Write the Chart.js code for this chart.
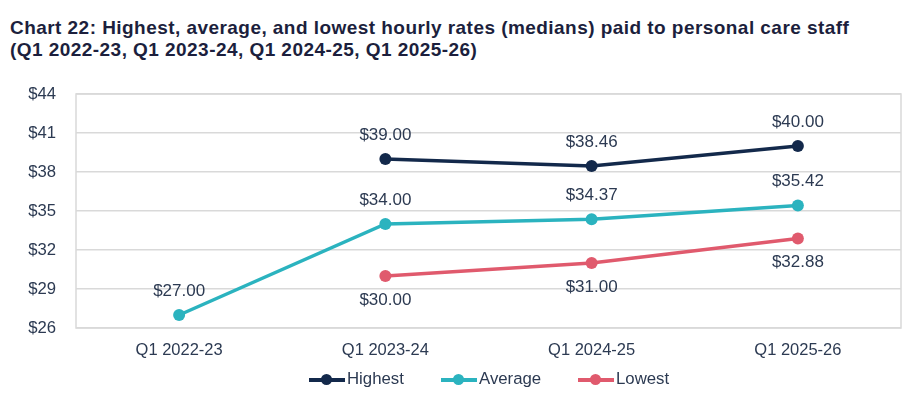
<!DOCTYPE html>
<html>
<head>
<meta charset="utf-8">
<script src="https://cdn.jsdelivr.net/npm/chart.js@4/dist/chart.umd.min.js"></script>
<style>
  html, body { margin: 0; padding: 0; background: #fff; }
  #wrap { position: relative; width: 916px; height: 404px; overflow: hidden; }
  #title {
    position: absolute; left: 10px; top: 17px;
    font-family: "Liberation Sans", Arial, sans-serif; font-weight: bold;
    font-size: 19px; line-height: 22px; letter-spacing: 0.45px; color: #1c1f3d;
    white-space: nowrap;
  }
  #chart { position: absolute; left: 0; top: 0; }
  #legend {
    position: absolute; top: 369px; left: 0; width: 916px; height: 20px;
    font-family: "Liberation Sans", Arial, sans-serif; font-size: 16.8px; color: #2c3a52;
  }
  .item { position: absolute; top: 0; height: 20px; line-height: 20px; }
  .mark { position: absolute; top: 9px; width: 36px; height: 3.5px; }
  .mark i { position: absolute; left: 12px; top: -4px; width: 11px; height: 11px; border-radius: 50%; }
  .item span { position: absolute; left: 38px; white-space: nowrap; }
</style>
</head>
<body>
<div id="wrap">
  <div id="title">Chart 22: Highest, average, and lowest hourly rates (medians) paid to personal care staff<br>(Q1 2022-23, Q1 2023-24, Q1 2024-25, Q1 2025-26)</div>
  <canvas id="chart" width="916" height="404"></canvas>
  <div id="legend"></div>
</div>
<script>
const categories = ["Q1 2022-23", "Q1 2023-24", "Q1 2024-25", "Q1 2025-26"];
const highest = [null, 39.00, 38.46, 40.00];
const average = [27.00, 34.00, 34.37, 35.42];
const lowest = [null, 30.00, 31.00, 32.88];
const seriesNames = ["Highest", "Average", "Lowest"];
const seriesColors = ["#13294b", "#2bb3bf", "#e05a6d"];
const labelSide = ["above", "above", "below"];

const textColor = "#2c3a52";
const fontFamily = "'Liberation Sans', Arial, sans-serif";

// ---------------- legend (html) ----------------
const legendDiv = document.getElementById("legend");
const legendX = [309, 441, 578];
seriesNames.forEach((name, i) => {
    const item = document.createElement("div");
    item.className = "item";
    item.style.left = legendX[i] + "px";
    item.innerHTML = `<div class="mark" style="background:${seriesColors[i]}"><i style="background:${seriesColors[i]}"></i></div><span>${name}</span>`;
    legendDiv.appendChild(item);
});

// ---------------- plugins ----------------
const frame = {
    id: "frame",
    beforeDatasetsDraw(chart) {
        const { ctx, chartArea: a } = chart;
        ctx.save();
        ctx.strokeStyle = "#d9d9d9";
        ctx.lineWidth = 1.5;
        ctx.strokeRect(a.left, a.top, a.right - a.left, a.bottom - a.top);
        ctx.restore();
    }
};

const valueLabels = {
    id: "valueLabels",
    afterDatasetsDraw(chart) {
        const ctx = chart.ctx;
        ctx.save();
        ctx.font = "17px " + fontFamily;
        ctx.fillStyle = textColor;
        ctx.textAlign = "center";
        ctx.textBaseline = "middle";
        chart.data.datasets.forEach((ds, i) => {
            chart.getDatasetMeta(i).data.forEach((pt, j) => {
                const v = ds.data[j];
                if (v === null) return;
                const dy = labelSide[i] === "above" ? -24 : 24;
                ctx.fillText("$" + v.toFixed(2), pt.x, pt.y + dy);
            });
        });
        ctx.restore();
    }
};

const seriesData = [highest, average, lowest];

new Chart(document.getElementById("chart"), {
    type: "line",
    data: {
        labels: categories,
        datasets: seriesNames.map((name, i) => ({
            label: name,
            data: seriesData[i],
            borderColor: seriesColors[i],
            backgroundColor: seriesColors[i],
            borderWidth: 3.5,
            pointRadius: 6,
            pointHoverRadius: 6,
            pointBorderWidth: 0,
            tension: 0,
            spanGaps: false
        }))
    },
    options: {
        responsive: false,
        animation: false,
        events: [],
        layout: { padding: { top: 94, right: 15, left: 0, bottom: 0 } },
        plugins: {
            legend: { display: false },
            tooltip: { enabled: false },
            title: { display: false }
        },
        scales: {
            x: {
                offset: true,
                grid: { display: false, drawTicks: false },
                border: { display: false },
                ticks: {
                    color: textColor,
                    padding: 13,
                    font: { family: fontFamily, size: 16.5 }
                },
                afterFit(scale) { scale.height = 76; }
            },
            y: {
                min: 26,
                max: 44,
                grid: { color: "#d9d9d9", lineWidth: 1.5, drawTicks: false },
                border: { display: false },
                ticks: {
                    stepSize: 3,
                    color: textColor,
                    padding: 20,
                    font: { family: fontFamily, size: 16.7 },
                    callback: (v) => "$" + v
                },
                afterFit(scale) { scale.width = 76; }
            }
        }
    },
    plugins: [frame, valueLabels]
});
</script>
</body>
</html>
